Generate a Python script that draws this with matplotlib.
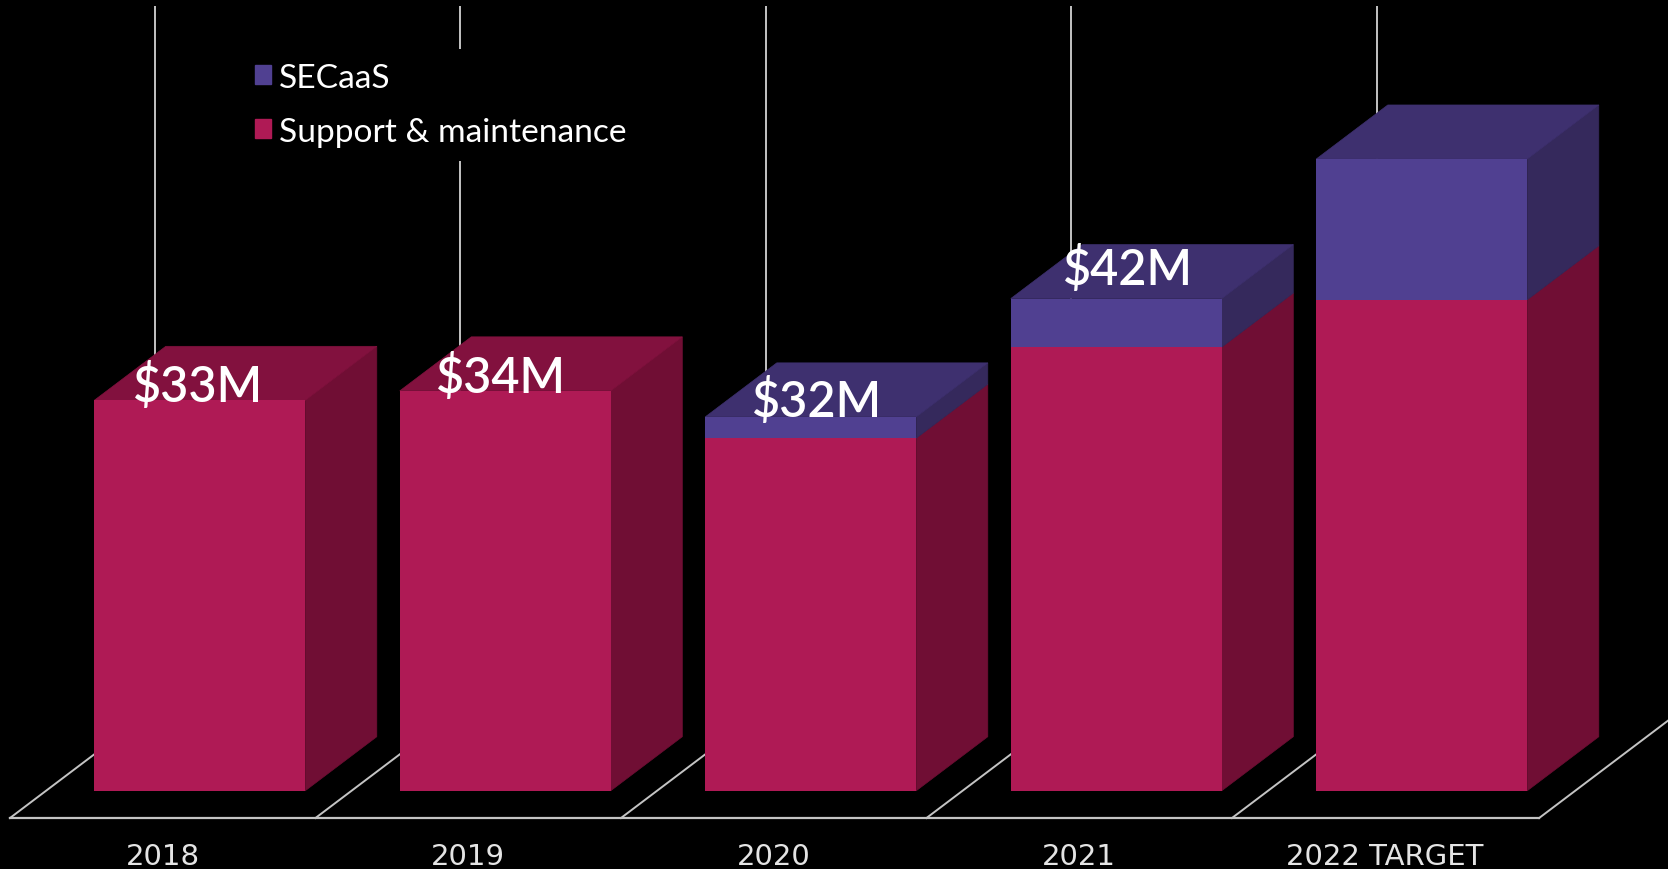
import matplotlib
matplotlib.use('Agg')
import matplotlib.pyplot as plt
from matplotlib.patches import Patch

years = ['2018', '2019', '2020', '2021', '2022 TARGET']
support = [33.0, 33.8, 29.8, 37.5, 41.5]
secaas = [0.0, 0.0, 1.8, 4.1, 11.9]
labels = ['$33M', '$34M', '$32M', '$42M', '']

# colours: front, top, side
crimson = ['#AF1A55', '#82113E', '#700E34']
purple = ['#504091', '#3E306F', '#35295C']
lineColor = '#C4C4C4'

# label nudges in pixels, the labels sit by hand in the original
labelDx = [-2, -4, 6, 12, 0]
labelDy = [14, 14, 16, 30, 0]

barW = 211 / 305.5
depthX = 71.5 / 305.5
depthY = 54 / 11.83

plt.rcParams['font.family'] = ['Lato', 'DejaVu Sans']

fig = plt.figure(figsize=(16.68, 8.70), dpi=100, facecolor='black')
ax = fig.add_axes([0, 35 / 870, 1, 835 / 870], facecolor='black')
ax.set_xlim(-199.8 / 305.5, (1668 - 199.8) / 305.5)
ax.set_ylim((791.7 - 835) / 11.83, 791.7 / 11.83)
for s in ax.spines.values():
    s.set_visible(False)
ax.set_yticks([])

# floor and back lines
floorY = -2.31
xs = list(range(len(years)))
ax.plot([-0.6214, 4.384], [floorY, floorY], color=lineColor, lw=1.6, zorder=1)
for i in range(6):
    x0 = i - 0.6214 if i < 5 else 4.384
    ax.plot([x0, x0 + 0.4746], [floorY, floorY + 9.26], color=lineColor, lw=1.4, zorder=1)
for i in xs:
    ax.plot([i - 0.1467, i - 0.1467], [floorY + 9.26, 66.3], color=lineColor, lw=1.4,
            solid_capstyle='butt', zorder=1)


def side(x, y0, y1, color):
    ax.fill([x, x + depthX, x + depthX, x], [y0, y0 + depthY, y1 + depthY, y1],
            color=color, lw=0.5, zorder=2)


for i in xs:
    x0 = i - barW / 2
    x1 = i + barW / 2
    total = support[i] + secaas[i]
    ax.bar(i, support[i], barW, color=crimson[0], zorder=3)
    side(x1, 0, support[i], crimson[2])
    if secaas[i] > 0:
        ax.bar(i, secaas[i], barW, bottom=support[i], color=purple[0], zorder=3)
        side(x1, support[i], total, purple[2])
    top = purple[1] if secaas[i] > 0 else crimson[1]
    ax.fill([x0, x1, x1 + depthX, x0 + depthX], [total, total, total + depthY, total + depthY],
            color=top, lw=0.5, zorder=2)
    if labels[i]:
        ax.annotate(labels[i], (i, total), xytext=(labelDx[i], labelDy[i]), textcoords='offset pixels',
                    color='white', fontsize=35, fontweight='semibold', ha='center', va='center', zorder=6)

ax.set_xticks([i - 37 / 305.5 for i in xs])
ax.set_xticklabels(years, color='#E4E4E4', fontsize=21, family='DejaVu Sans')
ax.tick_params(axis='x', length=0, pad=5.5)

handles = [Patch(color=purple[0], label='SECaaS'), Patch(color=crimson[0], label='Support & maintenance')]
leg = ax.legend(handles=handles, loc='upper left', bbox_to_anchor=(241 / 1668, 1 - 50 / 835),
                fontsize=24.1, frameon=True, facecolor='black', edgecolor='none', fancybox=False,
                framealpha=1, handlelength=0.5, handleheight=0.5, handletextpad=0.22,
                labelspacing=0.72, borderaxespad=0, borderpad=0.41)
for t in leg.get_texts():
    t.set_color('white')

fig.savefig('out.png', dpi=100, facecolor='black')
